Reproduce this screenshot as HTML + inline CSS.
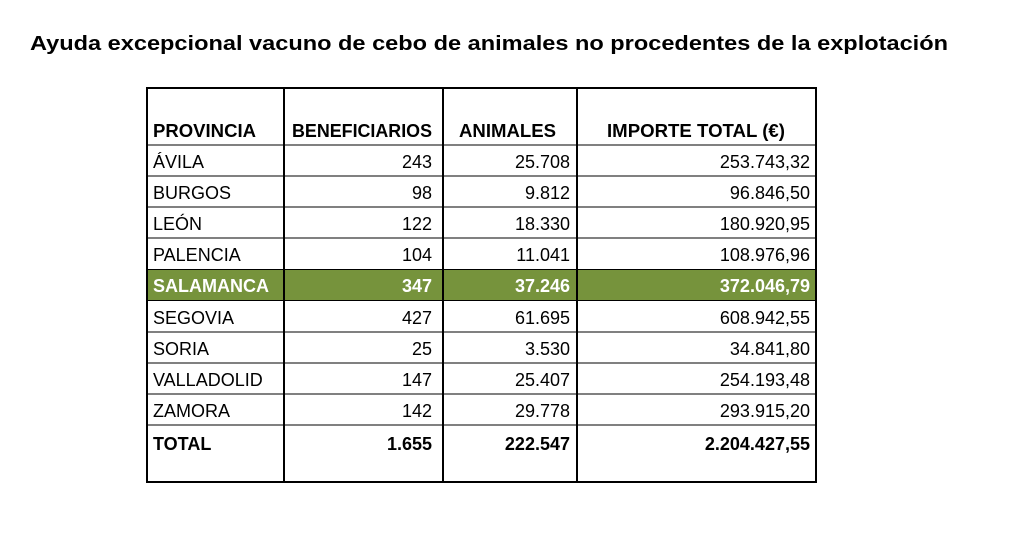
<!DOCTYPE html>
<html><head><meta charset="utf-8"><style>
body{margin:0;background:#fff;width:1018px;height:540px;overflow:hidden}
svg{display:block}
text{font-family:"Liberation Sans",sans-serif}
</style></head><body>
<svg width="1018" height="540" xmlns="http://www.w3.org/2000/svg">
<text x="30" y="50" font-size="20" font-weight="bold" textLength="918" lengthAdjust="spacingAndGlyphs">Ayuda excepcional vacuno de cebo de animales no procedentes de la explotación</text>
<rect x="147" y="270" width="669" height="30" fill="#76933C"/>
<g stroke="#000" stroke-width="1">
<line x1="147" y1="145" x2="816" y2="145"/>
<line x1="147" y1="176" x2="816" y2="176"/>
<line x1="147" y1="207" x2="816" y2="207"/>
<line x1="147" y1="238" x2="816" y2="238"/>
<line x1="147" y1="269.5" x2="816" y2="269.5"/>
<line x1="147" y1="300.5" x2="816" y2="300.5"/>
<line x1="147" y1="332" x2="816" y2="332"/>
<line x1="147" y1="363" x2="816" y2="363"/>
<line x1="147" y1="394" x2="816" y2="394"/>
<line x1="147" y1="425" x2="816" y2="425"/>
</g>
<g stroke="#000" stroke-width="2">
<line x1="284" y1="88" x2="284" y2="482"/>
<line x1="443" y1="88" x2="443" y2="482"/>
<line x1="577" y1="88" x2="577" y2="482"/>
<rect x="147" y="88" width="669" height="394" fill="none"/>
</g>
<g font-size="18" font-weight="bold">
<text x="153" y="137" textLength="103" lengthAdjust="spacingAndGlyphs">PROVINCIA</text>
<text x="292" y="137" textLength="140" lengthAdjust="spacingAndGlyphs">BENEFICIARIOS</text>
<text x="459" y="137" textLength="97" lengthAdjust="spacingAndGlyphs">ANIMALES</text>
<text x="607" y="137" textLength="178" lengthAdjust="spacingAndGlyphs">IMPORTE TOTAL (€)</text>
</g>
<g font-size="18">
<text x="153" y="168">ÁVILA</text><text x="432" y="168" text-anchor="end">243</text><text x="570" y="168" text-anchor="end">25.708</text><text x="810" y="168" text-anchor="end">253.743,32</text>
<text x="153" y="199">BURGOS</text><text x="432" y="199" text-anchor="end">98</text><text x="570" y="199" text-anchor="end">9.812</text><text x="810" y="199" text-anchor="end">96.846,50</text>
<text x="153" y="230">LEÓN</text><text x="432" y="230" text-anchor="end">122</text><text x="570" y="230" text-anchor="end">18.330</text><text x="810" y="230" text-anchor="end">180.920,95</text>
<text x="153" y="261">PALENCIA</text><text x="432" y="261" text-anchor="end">104</text><text x="570" y="261" text-anchor="end">11.041</text><text x="810" y="261" text-anchor="end">108.976,96</text>
<g fill="#fff" font-weight="bold"><text x="153" y="292">SALAMANCA</text><text x="432" y="292" text-anchor="end">347</text><text x="570" y="292" text-anchor="end">37.246</text><text x="810" y="292" text-anchor="end">372.046,79</text></g>
<text x="153" y="324">SEGOVIA</text><text x="432" y="324" text-anchor="end">427</text><text x="570" y="324" text-anchor="end">61.695</text><text x="810" y="324" text-anchor="end">608.942,55</text>
<text x="153" y="355">SORIA</text><text x="432" y="355" text-anchor="end">25</text><text x="570" y="355" text-anchor="end">3.530</text><text x="810" y="355" text-anchor="end">34.841,80</text>
<text x="153" y="386">VALLADOLID</text><text x="432" y="386" text-anchor="end">147</text><text x="570" y="386" text-anchor="end">25.407</text><text x="810" y="386" text-anchor="end">254.193,48</text>
<text x="153" y="417">ZAMORA</text><text x="432" y="417" text-anchor="end">142</text><text x="570" y="417" text-anchor="end">29.778</text><text x="810" y="417" text-anchor="end">293.915,20</text>
<g font-weight="bold"><text x="153" y="450">TOTAL</text><text x="432" y="450" text-anchor="end">1.655</text><text x="570" y="450" text-anchor="end">222.547</text><text x="810" y="450" text-anchor="end">2.204.427,55</text></g>
</g>
</svg>
</body></html>
